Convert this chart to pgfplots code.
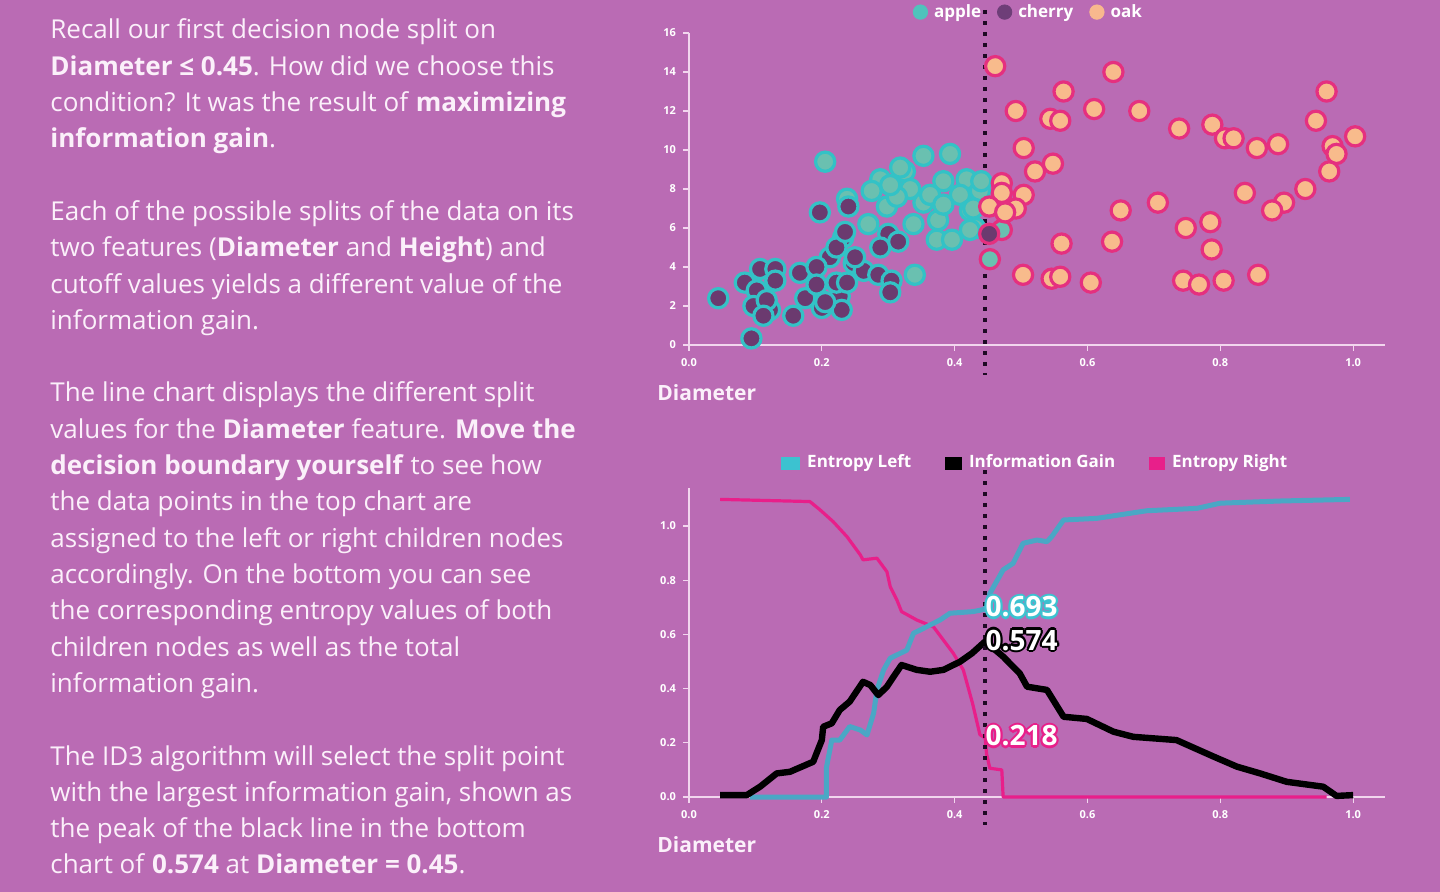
\documentclass[border=0pt]{standalone}
\usepackage{fontspec}
\setmainfont{Open Sans}
\usepackage{pgfplots}
\pgfplotsset{compat=1.18}
\definecolor{bg}{HTML}{BA6BB4}
\definecolor{axisc}{HTML}{F2D6EE}
\definecolor{tealS}{HTML}{33C2C6}
\definecolor{appleF}{HTML}{6AC0B0}
\definecolor{cherryF}{HTML}{6B3A6F}
\definecolor{oakF}{HTML}{F8BB8C}
\definecolor{pinkS}{HTML}{E5307F}
\definecolor{entL}{HTML}{4AA7C5}
\definecolor{entLleg}{HTML}{3CC2D0}
\definecolor{entR}{HTML}{E81F8A}
\definecolor{dotc}{HTML}{1E0A24}
\definecolor{txt}{HTML}{FBF0FA}
\definecolor{legApple}{HTML}{4FC3BC}
\definecolor{legCherry}{HTML}{6E3E78}
\definecolor{legOak}{HTML}{F8B88E}

\newcommand\hc[4]{\rlap{\kern#2\raisebox{#3}{\textcolor{#1}{#4}}}}
\newcommand\halo[2]{\hc{#1}{1.1pt}{0pt}{#2}\hc{#1}{-1.1pt}{0pt}{#2}\hc{#1}{0pt}{1.1pt}{#2}\hc{#1}{0pt}{-1.1pt}{#2}\hc{#1}{0.8pt}{0.8pt}{#2}\hc{#1}{-0.8pt}{0.8pt}{#2}\hc{#1}{0.8pt}{-0.8pt}{#2}\hc{#1}{-0.8pt}{-0.8pt}{#2}\textcolor{white}{#2}}

\pgfplotsset{
  myaxis/.style={
    scale only axis, width=348pt,
    axis x line=bottom, axis y line=left,
    axis line style={axisc, line width=0.9pt, -},
    xmin=0, xmax=1.048,
    xtick={0,0.2,0.4,0.6,0.8,1.0},
    tick style={axisc, line width=0.6pt},
    major tick length=3pt,
    tick align=outside,
    ticklabel style={text=white, font=\fontsize{5.5}{6}\selectfont\bfseries},
    /pgf/number format/assume math mode=true,
    xticklabel style={/pgf/number format/.cd, fixed, fixed zerofill, precision=1},
    clip=false,
    anchor=south west,
  },
  dotline/.style={dotc, line width=2pt, dash pattern=on 2pt off 3.5pt, forget plot},
  scat/.style={only marks, mark=*, mark size=4.8pt, forget plot},
}

\begin{document}
\begin{tikzpicture}[x=0.5pt, y=-0.5pt]
\useasboundingbox (0,0) rectangle (1440,892);
\fill[bg] (0,0) rectangle (1440,892);

% ---------------- text column ----------------
\begin{scope}[every node/.style={anchor=base west, inner sep=0pt, text=txt, font=\fontsize{13}{15}\selectfont}]
\node at (50,39) {Recall our first decision node split on};
\node at (50,75.3) {\textbf{Diameter ≤ 0.45}. How did we choose this};
\node at (50,111.6) {condition? It was the result of \textbf{maximizing}};
\node at (50,147.9) {\textbf{information gain}.};
\node at (50,220.5) {Each of the possible splits of the data on its};
\node at (50,256.8) {two features (\textbf{Diameter} and \textbf{Height}) and};
\node at (50,293.1) {cutoff values yields a different value of the};
\node at (50,329.4) {information gain.};
\node at (50,402) {The line chart displays the different split};
\node at (50,438.3) {values for the \textbf{Diameter} feature. \textbf{Move the}};
\node at (50,474.6) {\textbf{decision boundary yourself} to see how};
\node at (50,510.9) {the data points in the top chart are};
\node at (50,547.2) {assigned to the left or right children nodes};
\node at (50,583.5) {accordingly. On the bottom you can see};
\node at (50,619.8) {the corresponding entropy values of both};
\node at (50,656.1) {children nodes as well as the total};
\node at (50,692.4) {information gain.};
\node at (50,765) {The ID3 algorithm will select the split point};
\node at (50,801.3) {with the largest information gain, shown as};
\node at (50,837.6) {the peak of the black line in the bottom};
\node at (50,873.9) {chart of \textbf{0.574} at \textbf{Diameter = 0.45}.};
\end{scope}

% ---------------- scatter chart ----------------
\begin{axis}[myaxis, at={(344.5pt,-172.5pt)}, height=156pt,
  ymin=0, ymax=16, ytick={0,2,...,16},
  legend columns=3,
  legend style={at={(0.489,1.067)}, anchor=center, draw=none, fill=none,
    text=white, font=\fontsize{8.5}{9}\selectfont\bfseries,
    inner sep=0pt,
    /tikz/every odd column/.append style={column sep=1pt},
    /tikz/every even column/.append style={column sep=6pt}},
]
\addlegendimage{legend image code/.code={\fill[legApple] (3.6pt,0pt) circle (3.6pt);}}
\addlegendentry{apple}
\addlegendimage{legend image code/.code={\fill[legCherry] (3.6pt,0pt) circle (3.6pt);}}
\addlegendentry{cherry}
\addlegendimage{legend image code/.code={\fill[legOak] (3.6pt,0pt) circle (3.6pt);}}
\addlegendentry{oak}

% apple, left of split
\addplot[scat, mark options={draw=tealS, fill=appleF, line width=1.6pt}] coordinates {
(0.205,9.4) (0.353,9.7) (0.393,9.8) (0.325,8.9) (0.288,8.5) (0.275,7.9) (0.333,8.0)
(0.383,8.4) (0.418,8.5) (0.298,7.1) (0.353,7.3) (0.408,7.7) (0.423,6.9) (0.270,6.2)
(0.338,6.2) (0.375,6.4) (0.373,5.4) (0.396,5.4) (0.431,6.0) (0.238,7.5) (0.340,3.6)
(0.313,7.6) (0.363,7.7) (0.383,7.2) (0.438,7.9) (0.303,8.2) (0.428,7.0) (0.423,5.9)
(0.318,9.1) (0.440,8.4)
};
% apple, right of split
\addplot[scat, mark options={draw=pinkS, fill=appleF, line width=1.6pt}] coordinates {
(0.471,5.9) (0.453,4.4)
};
% cherry, left of split
\addplot[scat, mark options={draw=tealS, fill=cherryF, line width=1.6pt}] coordinates {
(0.044,2.4) (0.094,0.34) (0.197,6.8) (0.240,7.1) (0.300,5.7) (0.288,5.0) (0.315,5.3)
(0.232,5.5) (0.212,4.5) (0.222,5.0) (0.107,3.9) (0.130,3.9) (0.084,3.2) (0.102,2.8)
(0.130,3.3) (0.097,2.0) (0.122,1.8) (0.157,1.5) (0.167,3.7) (0.192,4.0) (0.175,2.4)
(0.200,1.9) (0.227,2.5) (0.192,3.1) (0.222,3.2) (0.248,4.2) (0.263,3.8) (0.285,3.6)
(0.305,3.3) (0.303,2.7) (0.238,3.2) (0.230,1.8) (0.117,2.3) (0.250,4.5) (0.235,5.8)
(0.112,1.5) (0.205,2.2)
};
% cherry, right of split
\addplot[scat, mark options={draw=pinkS, fill=cherryF, line width=1.6pt}] coordinates {
(0.452,5.7)
};
% oak
\addplot[scat, mark options={draw=pinkS, fill=oakF, line width=1.6pt}] coordinates {
(0.461,14.3) (0.639,14.0) (0.564,13.0) (0.492,12.0) (0.544,11.6) (0.559,11.5) (0.610,12.1)
(0.678,12.0) (0.738,11.1) (0.788,11.3) (0.807,10.6) (0.820,10.6) (0.855,10.1) (0.887,10.3)
(0.960,13.0) (0.944,11.5) (1.003,10.7) (0.969,10.2) (0.975,9.8) (0.964,8.9) (0.928,8.0)
(0.837,7.8) (0.896,7.3) (0.878,6.9) (0.706,7.3) (0.650,6.9) (0.504,10.1) (0.548,9.3)
(0.521,8.9) (0.471,8.3) (0.471,7.8) (0.504,7.7) (0.492,7.0) (0.452,7.1) (0.476,6.8)
(0.748,6.0) (0.785,6.3) (0.787,4.9) (0.561,5.2) (0.637,5.3) (0.503,3.6) (0.546,3.4)
(0.559,3.5) (0.605,3.2) (0.744,3.3) (0.768,3.1) (0.805,3.3) (0.857,3.6)
};
\addplot[dotline] coordinates {(0.446,17.18) (0.446,-1.54)};
\end{axis}

% ---------------- line chart ----------------
\begin{axis}[myaxis, at={(344.5pt,-398.5pt)}, height=154.5pt,
  ymin=0, ymax=1.14, ytick={0,0.2,0.4,0.6,0.8,1.0},
  yticklabel style={/pgf/number format/.cd, fixed, fixed zerofill, precision=1},
  legend columns=3,
  legend style={at={(0.499,1.081)}, anchor=center, draw=none, fill=none,
    text=white, font=\fontsize{8.5}{9}\selectfont\bfseries,
    inner sep=0pt,
    /tikz/every odd column/.append style={column sep=1.5pt},
    /tikz/every even column/.append style={column sep=15pt}},
]
\addlegendimage{legend image code/.code={\fill[entLleg] (0pt,-3pt) rectangle (9pt,3pt);}}
\addlegendentry{Entropy Left}
\addlegendimage{legend image code/.code={\fill[black] (0pt,-3pt) rectangle (8pt,3pt);}}
\addlegendentry{Information Gain}
\addlegendimage{legend image code/.code={\fill[entR] (0pt,-3pt) rectangle (7.5pt,3pt);}}
\addlegendentry{Entropy Right}

% Entropy Right
\addplot[entR, line width=1.6pt, line join=round, forget plot] coordinates {
(0.047,1.098) (0.182,1.090) (0.197,1.060) (0.217,1.016) (0.238,0.960) (0.258,0.893)
(0.262,0.875) (0.283,0.881) (0.298,0.831) (0.303,0.776) (0.313,0.727) (0.320,0.684)
(0.343,0.653) (0.368,0.628) (0.383,0.579) (0.398,0.530) (0.413,0.469) (0.427,0.345)
(0.438,0.230) (0.446,0.218) (0.448,0.160) (0.453,0.106) (0.471,0.100) (0.473,0.0)
(0.960,0.0)
};
% Entropy Left
\addplot[entL, line width=2.5pt, line join=round, forget plot] coordinates {
(0.092,0) (0.207,0) (0.207,0.11) (0.215,0.21) (0.227,0.21) (0.242,0.26) (0.258,0.247)
(0.268,0.229) (0.278,0.309) (0.283,0.395) (0.293,0.469) (0.303,0.512) (0.328,0.542)
(0.338,0.604) (0.348,0.616) (0.378,0.653) (0.393,0.678) (0.428,0.684) (0.446,0.693)
(0.453,0.751) (0.473,0.838) (0.488,0.862) (0.503,0.936) (0.524,0.948) (0.539,0.942)
(0.546,0.960) (0.564,1.022) (0.614,1.028) (0.689,1.056) (0.765,1.065) (0.800,1.084)
(0.890,1.092) (0.995,1.098)
};
% Information Gain
\addplot[black, line width=3.2pt, line join=round, forget plot] coordinates {
(0.047,0.007) (0.087,0.007) (0.107,0.038) (0.132,0.087) (0.152,0.093) (0.187,0.130)
(0.200,0.210) (0.202,0.259) (0.215,0.272) (0.227,0.321) (0.242,0.352) (0.262,0.425)
(0.273,0.413) (0.285,0.376) (0.298,0.407) (0.308,0.444) (0.320,0.487) (0.343,0.469)
(0.363,0.462) (0.383,0.469) (0.408,0.499) (0.426,0.530) (0.446,0.574) (0.473,0.518)
(0.498,0.456) (0.509,0.407) (0.539,0.395) (0.564,0.296) (0.599,0.288) (0.639,0.241)
(0.669,0.222) (0.734,0.210) (0.790,0.149) (0.825,0.112) (0.860,0.087) (0.900,0.056)
(0.955,0.038) (0.975,0.004) (1.000,0.007)
};
\addplot[dotline] coordinates {(0.446,1.207) (0.446,-0.103)};
\node[anchor=west, inner sep=0pt, font=\fontsize{14}{14}\selectfont\bfseries] at (axis cs:0.446,0.701) {\halo{entLleg}{0.693}};
\node[anchor=west, inner sep=0pt, font=\fontsize{14}{14}\selectfont\bfseries] at (axis cs:0.446,0.579) {\halo{black}{0.574}};
\node[anchor=west, inner sep=0pt, font=\fontsize{14}{14}\selectfont\bfseries] at (axis cs:0.446,0.225) {\halo{entR}{0.218}};
\end{axis}

\node[anchor=west, inner sep=0pt, text=txt, font=\fontsize{10.5}{11}\selectfont\bfseries] at (657,393) {Diameter};
\node[anchor=west, inner sep=0pt, text=txt, font=\fontsize{10.5}{11}\selectfont\bfseries] at (657,845) {Diameter};
\end{tikzpicture}
\end{document}
